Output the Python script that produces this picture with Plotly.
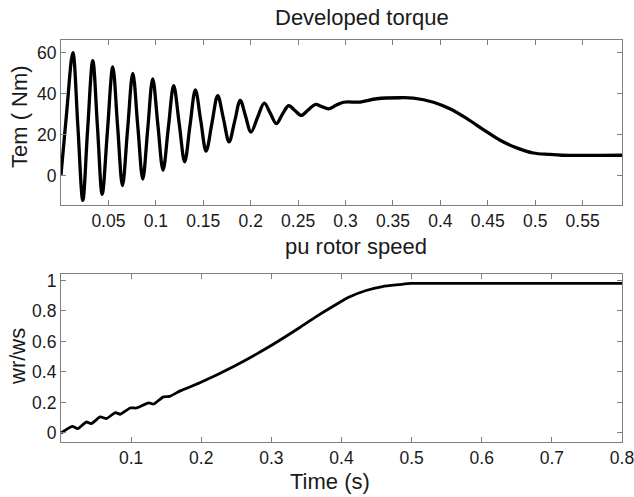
import plotly.graph_objects as go
from plotly.subplots import make_subplots

# Torque (Nm) vs time (s): points (extremes and mid-swing points)
torque_t = [0.0, 0.006, 0.0125, 0.0178, 0.023, 0.028, 0.0335, 0.0385, 0.0434, 0.049,
            0.0546, 0.0597, 0.0648, 0.0702, 0.0757, 0.081, 0.0862, 0.0915, 0.0967, 0.1021,
            0.1076, 0.1132, 0.1188, 0.1246, 0.1304, 0.136, 0.1417, 0.1473, 0.153, 0.1591,
            0.1652, 0.1712, 0.1772, 0.1831, 0.189, 0.1946, 0.2003, 0.2073, 0.2143, 0.2206,
            0.227, 0.2335, 0.24, 0.2466, 0.2533, 0.2605, 0.268, 0.275, 0.282, 0.29,
            0.298, 0.3155, 0.333, 0.3576, 0.3716, 0.3927, 0.41, 0.428, 0.4453, 0.463,
            0.4805, 0.498, 0.5156, 0.528, 0.5915]
torque_v = [0.5, 31, 60, 24, -12, 22, 56, 23.5, -9, 22,
            53, 24, -4.8, 22.5, 49.9, 24, -1.6, 23, 47.2, 25,
            2.8, 23.5, 43.9, 25.5, 6.8, 24.5, 41.8, 27, 12, 25.5,
            39, 28, 16.5, 26.5, 36.7, 29, 21.3, 28.5, 35.4, 30.5,
            25.4, 30, 34.1, 31.8, 29.4, 32, 34.7, 33.7, 32.6, 34.3,
            35.8, 35.9, 37.5, 38, 37.8, 35.8, 32.6, 27.8, 22.5, 17.3,
            13.6, 11.1, 10.4, 10.0, 10.0]

# pu rotor speed vs time (s)
speed_t = [0.0, 0.016, 0.024, 0.036, 0.043, 0.056, 0.065, 0.0774, 0.0845, 0.0987,
           0.108, 0.125, 0.132, 0.146, 0.155, 0.170, 0.198, 0.2455, 0.293, 0.340,
           0.364, 0.3875, 0.411, 0.435, 0.4585, 0.482, 0.499, 0.55, 0.8]
speed_v = [0.0, 0.044, 0.029, 0.072, 0.061, 0.105, 0.095, 0.134, 0.123, 0.164,
           0.164, 0.197, 0.19, 0.237, 0.24, 0.276, 0.329, 0.434, 0.555, 0.69,
           0.763, 0.829, 0.891, 0.934, 0.96, 0.972, 0.98, 0.98, 0.98]

top_xticks = [0.05, 0.1, 0.15, 0.2, 0.25, 0.3, 0.35, 0.4, 0.45, 0.5, 0.55]
top_yticks = [0, 20, 40, 60]
bot_xticks = [0.1, 0.2, 0.3, 0.4, 0.5, 0.6, 0.7, 0.8]
bot_yticks = [0, 0.2, 0.4, 0.6, 0.8, 1]

FONT = "Liberation Sans, Arial, sans-serif"
TXT = "#1a1a1a"
AX = "#7f7f7f"

fig = make_subplots(rows=2, cols=1)
fig.add_trace(go.Scatter(x=torque_t, y=torque_v, mode="lines",
                         line=dict(color="black", width=3.3, shape="spline", smoothing=1.0)),
              row=1, col=1)
fig.add_trace(go.Scatter(x=speed_t, y=speed_v, mode="lines",
                         line=dict(color="black", width=2.8, shape="spline", smoothing=0.6)),
              row=2, col=1)

axcommon = dict(showline=True, linecolor=AX, linewidth=1.2, mirror="ticks",
                ticks="inside", ticklen=5, tickcolor=AX, tickwidth=1,
                showgrid=False, zeroline=False, automargin=False,
                ticklabeloverflow="allow",
                tickfont=dict(family=FONT, size=17.5, color=TXT))

fig.update_xaxes(**axcommon)
fig.update_yaxes(**axcommon)

fig.update_layout(
    xaxis=dict(domain=[0, 1], range=[0, 0.5915], tickvals=top_xticks,
               ticktext=[f"{v:g}" for v in top_xticks]),
    yaxis=dict(domain=[0.5896, 1.0], range=[-14.2, 66.1], tickvals=top_yticks),
    xaxis2=dict(domain=[0, 1], range=[0, 0.8], tickvals=bot_xticks,
                ticktext=[f"{v:g}" for v in bot_xticks]),
    yaxis2=dict(domain=[0, 0.4179], range=[-0.059, 1.042], tickvals=bot_yticks,
                ticktext=[f"{v:g}" for v in bot_yticks]),
    width=634, height=497,
    margin=dict(l=61, r=12, t=40, b=55, autoexpand=False),
    plot_bgcolor="white", paper_bgcolor="white",
    showlegend=False,
    font=dict(family=FONT, color=TXT),
)

H = 497 - 40 - 55
def ypaper(py):
    return (497 - 55 - py) / H

W = 634 - 61 - 12
def xpaper(px):
    return (px - 61) / W

anns = [
    dict(text="Developed torque", x=xpaper(362), y=ypaper(18)),
    dict(text="pu rotor speed", x=xpaper(356), y=ypaper(246)),
    dict(text="Time (s)", x=xpaper(330), y=ypaper(481)),
    dict(text="Tem ( Nm)", x=xpaper(20), y=ypaper(117), textangle=-90),
    dict(text="wr/ws", x=xpaper(17), y=ypaper(357), textangle=-90),
]
for a in anns:
    fig.add_annotation(xref="paper", yref="paper", showarrow=False,
                       xanchor="center", yanchor="middle",
                       font=dict(size=22, family=FONT, color=TXT), **a)

fig.write_html("out.html")
